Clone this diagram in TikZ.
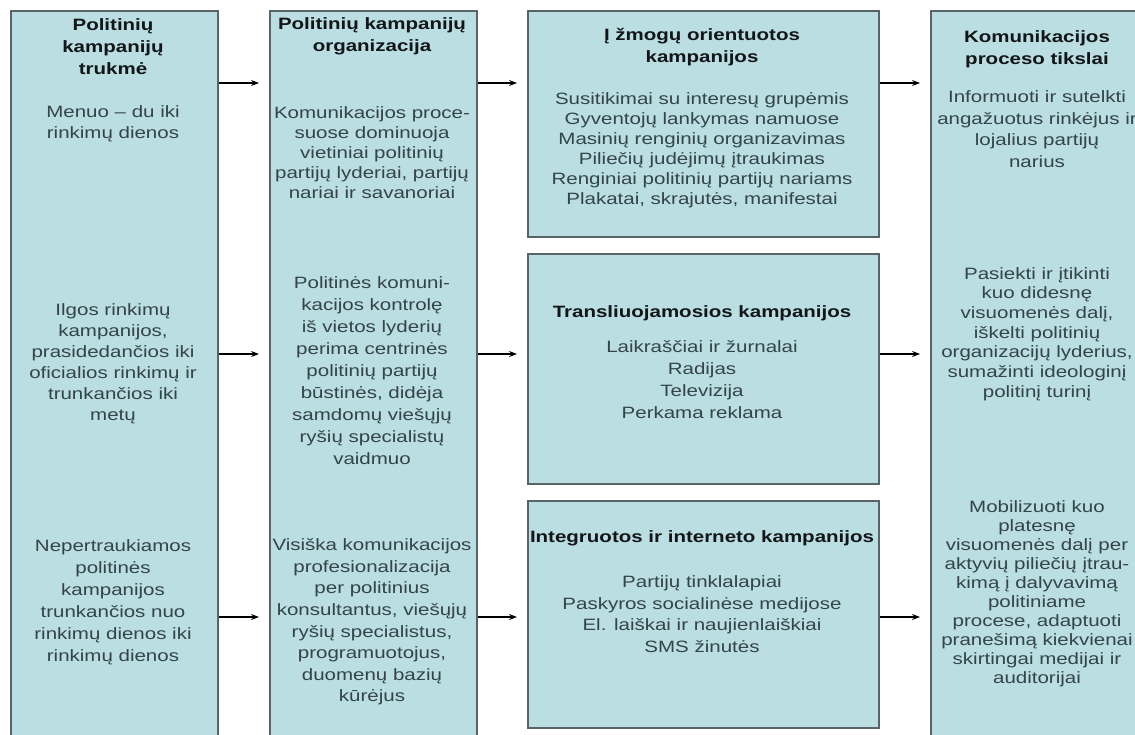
\documentclass[tikz,border=0pt]{standalone}
\usepackage{fontspec}
\setmainfont[FakeStretch=1.25]{Liberation Sans}
\usetikzlibrary{positioning,arrows.meta}

\definecolor{boxfill}{RGB}{186,222,226}
\definecolor{boxline}{RGB}{88,100,103}
\definecolor{bodytext}{RGB}{52,68,72}
\definecolor{headtext}{RGB}{18,22,24}

\begin{document}
\begin{tikzpicture}[
    x=1pt, y=-1pt,
    col box/.style={
        draw=boxline,
        fill=boxfill,
        line width=1.6pt,
        anchor=north west,
        inner sep=0pt
    },
    head text/.style={
        align=center,
        text=headtext,
        inner sep=0pt,
        font=\bfseries\fontsize{16.4}{22}\selectfont
    },
    body text/.style={
        align=center,
        text=bodytext,
        inner sep=0pt,
        font=\fontsize{16.4}{#1}\selectfont
    },
    body text/.default=21,
    arrow/.style={-{Stealth[length=8pt,width=6pt]}, line width=1.1pt, shorten >=10pt}
]

\path[use as bounding box, clip] (0,0) rectangle (1135,734);

% columns
\node[col box, minimum width=207, minimum height=740] (c1) at (10,10) {};
\node[col box, minimum width=207, minimum height=740] (c2) at (269,10) {};
\node[col box, minimum width=351, minimum height=226] (c3a) at (527,10) {};
\node[col box, minimum width=351, minimum height=230] (c3b) at (527,253) {};
\node[col box, minimum width=351, minimum height=227] (c3c) at (527,500) {};
\node[col box, minimum width=220, minimum height=740] (c4) at (930,10) {};

% first column
\node[head text] (h1) at (113,47) {Politinių\\kampanijų\\trukmė};
\node[body text] (b1a) at (113,124) {Menuo – du iki\\rinkimų dienos};
\node[body text] (b1b) at (113,364) {Ilgos rinkimų\\kampanijos,\\prasidedančios iki\\oficialios rinkimų ir\\trunkančios iki\\metų};
\node[body text=22] (b1c) at (113,602) {Nepertraukiamos\\politinės\\kampanijos\\trunkančios nuo\\rinkimų dienos iki\\rinkimų dienos};

% second column
\node[head text] (h2) at (372,36) {Politinių kampanijų\\organizacija};
\node[body text=20] (b2a) at (372,153) {Komunikacijos proce-\\suose dominuoja\\vietiniai politinių\\partijų lyderiai, partijų\\nariai ir savanoriai};
\node[body text=22] (b2b) at (372,371) {Politinės komuni-\\kacijos kontrolę\\iš vietos lyderių\\perima centrinės\\politinių partijų\\būstinės, didėja\\samdomų viešųjų\\ryšių specialistų\\vaidmuo};
\node[body text=21.6] (b2c) at (372,622) {Visiška komunikacijos\\profesionalizacija\\per politinius\\konsultantus, viešųjų\\ryšių specialistus,\\programuotojus,\\duomenų bazių\\kūrėjus};

% third column
\node[head text] (h3a) at (702,47) {Į žmogų orientuotos\\kampanijos};
\node[body text=20] (b3a) at (702,150) {Susitikimai su interesų grupėmis\\Gyventojų lankymas namuose\\Masinių renginių organizavimas\\Piliečių judėjimų įtraukimas\\Renginiai politinių partijų nariams\\Plakatai, skrajutės, manifestai};
\node[head text] (h3b) at (702,313) {Transliuojamosios kampanijos};
\node[body text=22] (b3b) at (702,380) {Laikraščiai ir žurnalai\\Radijas\\Televizija\\Perkama reklama};
\node[head text] (h3c) at (702,538) {Integruotos ir interneto kampanijos};
\node[body text=21.7] (b3c) at (702,614) {Partijų tinklalapiai\\Paskyros socialinėse medijose\\El. laiškai ir naujienlaiškiai\\SMS žinutės};

% fourth column
\node[head text] (h4) at (1037,49) {Komunikacijos\\proceso tikslai};
\node[body text=21.7] (b4a) at (1037,129) {Informuoti ir sutelkti\\angažuotus rinkėjus ir\\lojalius partijų\\narius};
\node[body text=19.7] (b4b) at (1037,334) {Pasiekti ir įtikinti\\kuo didesnę\\visuomenės dalį,\\iškelti politinių\\organizacijų lyderius,\\sumažinti ideologinį\\politinį turinį};
\node[body text=19] (b4c) at (1037,594) {Mobilizuoti kuo\\platesnę\\visuomenės dalį per\\aktyvių piliečių įtrau-\\kimą į dalyvavimą\\politiniame\\procese, adaptuoti\\pranešimą kiekvienai\\skirtingai medijai ir\\auditorijai};

% arrow rows
\coordinate (row1) at (0,83);
\coordinate (row2) at (0,354);
\coordinate (row3) at (0,617);

\draw[arrow] (c1.east |- row1) -- (c2.west |- row1);
\draw[arrow] (c1.east |- row2) -- (c2.west |- row2);
\draw[arrow] (c1.east |- row3) -- (c2.west |- row3);

\draw[arrow] (c2.east |- row1) -- (c3a.west |- row1);
\draw[arrow] (c2.east |- row2) -- (c3b.west |- row2);
\draw[arrow] (c2.east |- row3) -- (c3c.west |- row3);

\draw[arrow] (c3a.east |- row1) -- (c4.west |- row1);
\draw[arrow] (c3b.east |- row2) -- (c4.west |- row2);
\draw[arrow] (c3c.east |- row3) -- (c4.west |- row3);

\end{tikzpicture}
\end{document}
